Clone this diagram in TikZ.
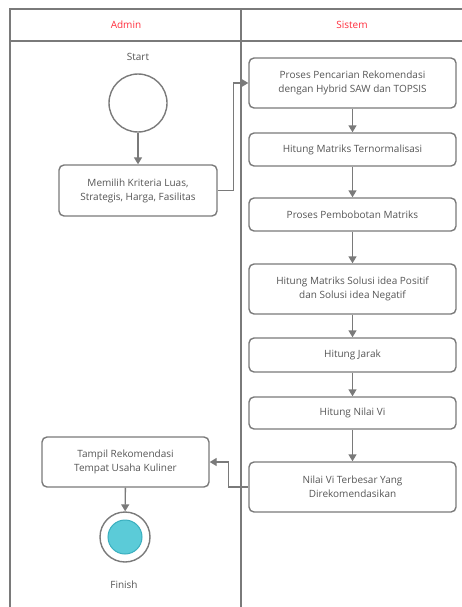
\documentclass[tikz,border=0pt]{standalone}
\usepackage{fontspec}
\setmainfont{Open Sans}
\usetikzlibrary{arrows.meta}
\definecolor{ln}{HTML}{7A7A7A}
\definecolor{tx}{HTML}{555555}
\definecolor{hd}{HTML}{FF2D3C}
\definecolor{tealf}{HTML}{5BCBD8}
\definecolor{tealb}{HTML}{3AAFBF}
\begin{document}
\begin{tikzpicture}[x=1pt,y=-1pt,
  lane/.style={draw=ln,line width=1.8pt},
  box/.style={draw=ln,line width=1.4pt,rounded corners=5pt,align=center,text=tx,
    font=\fontsize{10}{14}\selectfont,inner sep=0pt},
  sbox/.style={box,minimum width=207pt},
  lbl/.style={text=tx,font=\fontsize{10}{14}\selectfont,inner sep=0pt},
  hdr/.style={text=hd,font=\fontsize{10}{14}\selectfont,inner sep=0pt},
  arr/.style={draw=ln,line width=1.4pt,-{Triangle[length=7pt,width=8pt]}}]
\useasboundingbox (0,0) rectangle (462,607);
\draw[lane] (462,9) -- (10,9) -- (10,607);
\draw[lane] (10,41) -- (462,41);
\draw[lane] (241,9) -- (241,607);
\node[hdr] (hA) at (126,25) {Admin};
\node[hdr] (hS) at (352,25) {Sistem};
\node[lbl] (startlbl) at (138,57) {Start};
\node[circle,draw=ln,line width=1.4pt,minimum size=58pt,inner sep=0pt] (start) at (138,103) {};
\node[box,minimum width=158pt,minimum height=51pt] (m1) at (138,190.5) {Memilih Kriteria Luas,\\Strategis, Harga, Fasilitas};
\node[sbox,minimum height=50pt] (s1) at (352.5,83) {Proses Pencarian Rekomendasi\\dengan Hybrid SAW dan TOPSIS};
\node[sbox,minimum height=33pt] (s2) at (352.5,149.5) {Hitung Matriks Ternormalisasi};
\node[sbox,minimum height=33pt] (s3) at (352.5,214.5) {Proses Pembobotan Matriks};
\node[sbox,minimum height=50pt] (s4) at (352.5,289) {Hitung Matriks Solusi idea Positif\\dan Solusi idea Negatif};
\node[sbox,minimum height=34pt] (s5) at (352.5,355) {Hitung Jarak};
\node[sbox,minimum height=32pt] (s6) at (352.5,413) {Hitung Nilai Vi};
\node[sbox,minimum height=50pt] (s7) at (352.5,487) {Nilai Vi Terbesar Yang\\Direkomendasikan};
\node[box,minimum width=167pt,minimum height=50pt] (tp) at (125.5,462) {Tampil Rekomendasi\\Tempat Usaha Kuliner};
\node[circle,draw=ln,line width=1.4pt,fill=white,minimum size=50pt,inner sep=0pt] (fin) at (125,537) {};
\node[circle,draw=tealb,line width=1pt,fill=tealf,minimum size=34pt,inner sep=0pt] (finin) at (125,537) {};
\node[lbl] (finlbl) at (124,585) {Finish};
\draw[arr] (start) -- (m1);
\draw[arr] (m1.east) -- ++(16,0) |- (s1.west);
\draw[arr] (s1) -- (s2);
\draw[arr] (s2) -- (s3);
\draw[arr] (s3) -- (s4);
\draw[arr] (s4) -- (s5);
\draw[arr] (s5) -- (s6);
\draw[arr] (s6) -- (s7);
\draw[arr] (s7.west) -- ++(-20,0) |- (tp.east);
\draw[arr] (tp) -- (fin);
\end{tikzpicture}
\end{document}
